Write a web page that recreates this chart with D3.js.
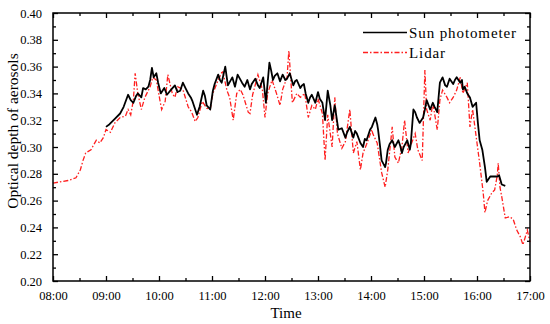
<!DOCTYPE html>
<html>
<head>
<meta charset="utf-8">
<script src="https://cdn.jsdelivr.net/npm/d3@7/dist/d3.min.js"></script>
<style>
  html, body { margin: 0; padding: 0; background: #fff; }
  svg { display: block; }
  text { font-family: "Liberation Serif", "Times New Roman", serif; fill: #000; }
</style>
</head>
<body>
<svg id="chart" width="550" height="324"></svg>
<script>
// ---------------- DATA ----------------
const sunTimes = ["09:00","09:04","09:10","09:16","09:20","09:25","09:28","09:31","09:34","09:36","09:40","09:42","09:45","09:48","09:50","09:52","09:54","09:57","09:59",
"10:02","10:06","10:09","10:14","10:18","10:21","10:24","10:27","10:30","10:33","10:36","10:38","10:43","10:46","10:50","10:52","10:54","10:58",
"11:01","11:03","11:07","11:09","11:11","11:15","11:18","11:23","11:26","11:29","11:34","11:37","11:40","11:43","11:45","11:49","11:52","11:54","11:58",
"12:01","12:05","12:07","12:09","12:11","12:14","12:17","12:20","12:23","12:25","12:28","12:32","12:34","12:36","12:40","12:42","12:44","12:46","12:49","12:51","12:53","12:57",
"13:00","13:02","13:05","13:08","13:11","13:14","13:16","13:19","13:23","13:27","13:31","13:33","13:36","13:40","13:42","13:44","13:48","13:51","13:53","13:55","13:59",
"14:01","14:05","14:07","14:08","14:10","14:12","14:16","14:17","14:19","14:21","14:24","14:27","14:31","14:33","14:35","14:37","14:41","14:44","14:45","14:48","14:50","14:52","14:55","14:59",
"15:01","15:03","15:07","15:10","15:12","15:15","15:18","15:21","15:24","15:26","15:29","15:33","15:35","15:37","15:41","15:43","15:44","15:46","15:49","15:52","15:55","15:59",
"16:01","16:03","16:06","16:09","16:11","16:15","16:18","16:23","16:25","16:28","16:32"];
const sunValues = [0.315,0.317,0.321,0.325,0.330,0.339,0.335,0.333,0.338,0.340,0.337,0.344,0.343,0.345,0.350,0.359,0.352,0.355,0.348,
0.340,0.344,0.339,0.343,0.346,0.341,0.342,0.348,0.344,0.340,0.337,0.334,0.324,0.330,0.342,0.338,0.331,0.328,
0.342,0.347,0.354,0.350,0.348,0.360,0.346,0.352,0.345,0.354,0.348,0.345,0.350,0.343,0.347,0.351,0.346,0.344,0.352,
0.333,0.363,0.357,0.350,0.353,0.355,0.349,0.354,0.350,0.351,0.355,0.346,0.349,0.350,0.344,0.346,0.347,0.340,0.333,0.337,0.339,0.333,
0.341,0.336,0.333,0.320,0.342,0.331,0.320,0.331,0.313,0.314,0.307,0.311,0.315,0.307,0.312,0.310,0.303,0.300,0.306,0.305,0.313,
0.315,0.322,0.317,0.313,0.302,0.290,0.285,0.288,0.298,0.302,0.305,0.300,0.305,0.301,0.2955,0.300,0.305,0.298,0.302,0.328,0.326,0.322,0.318,0.322,
0.328,0.335,0.328,0.333,0.330,0.326,0.348,0.352,0.346,0.345,0.351,0.347,0.350,0.352,0.348,0.350,0.343,0.345,0.340,0.337,0.330,0.333,
0.318,0.305,0.298,0.285,0.274,0.278,0.278,0.278,0.279,0.272,0.271];

const lidarTimes = ["08:00","08:08","08:17","08:26","08:31","08:34","08:37","08:43","08:49","08:53","08:57",
"09:00","09:05","09:10","09:16","09:22","09:25","09:28","09:31","09:33","09:36","09:40","09:44","09:50","09:53","09:57",
"10:01","10:03","10:07","10:10","10:15","10:18","10:21","10:27","10:33","10:37","10:41","10:44","10:49","10:54","10:58",
"11:01","11:07","11:12","11:17","11:20","11:24","11:28","11:32","11:35","11:41","11:43","11:46","11:52","11:57",
"12:00","12:03","12:08","12:13","12:17","12:20","12:25","12:27","12:31","12:36","12:40","12:45","12:49","12:53","12:57",
"13:00","13:05","13:08","13:11","13:16","13:19","13:22","13:27","13:31","13:36","13:40","13:44","13:48","13:51","13:55",
"14:01","14:02","14:07","14:12","14:16","14:19","14:24","14:27","14:31","14:35","14:38","14:42","14:46","14:50","14:53","14:58",
"15:01","15:03","15:07","15:10","15:15","15:18","15:21","15:26","15:29","15:33","15:37","15:41","15:44","15:49","15:52","15:55",
"16:00","16:03","16:07","16:09","16:12","16:17","16:20","16:23","16:24","16:26","16:28","16:32","16:37","16:41","16:45","16:49","16:52","16:57","17:00"];
const lidarValues = [0.273,0.274,0.275,0.277,0.283,0.290,0.2955,0.298,0.305,0.303,0.307,
0.313,0.311,0.318,0.322,0.323,0.328,0.324,0.335,0.355,0.340,0.328,0.337,0.345,0.352,0.350,
0.335,0.328,0.334,0.354,0.340,0.337,0.345,0.343,0.330,0.326,0.319,0.322,0.334,0.329,0.328,
0.340,0.350,0.357,0.342,0.337,0.320,0.340,0.343,0.339,0.326,0.325,0.339,0.354,0.343,
0.322,0.340,0.350,0.340,0.331,0.343,0.352,0.372,0.333,0.340,0.337,0.340,0.322,0.331,0.328,
0.336,0.325,0.290,0.324,0.300,0.337,0.310,0.299,0.304,0.328,0.2955,0.304,0.283,0.2955,0.302,
0.313,0.310,0.303,0.281,0.270,0.283,0.315,0.2925,0.288,0.300,0.320,0.2955,0.303,0.310,0.298,0.290,
0.3575,0.328,0.320,0.333,0.3127,0.335,0.3425,0.337,0.333,0.337,0.3425,0.352,0.340,0.348,0.315,0.328,
0.303,0.288,0.266,0.251,0.260,0.266,0.268,0.279,0.288,0.270,0.263,0.247,0.248,0.246,0.238,0.233,0.227,0.238,0.229];

const xMajorTicks = ["08:00","09:00","10:00","11:00","12:00","13:00","14:00","15:00","16:00","17:00"];
const xMinorTicks = ["08:30","09:30","10:30","11:30","12:30","13:30","14:30","15:30","16:30"];
const yMajorTicks = [0.20,0.22,0.24,0.26,0.28,0.30,0.32,0.34,0.36,0.38,0.40];
const yMinorTicks = [0.21,0.23,0.25,0.27,0.29,0.31,0.33,0.35,0.37,0.39];
const seriesNames = ["Sun photometer","Lidar"];

// ---------------- CHART ----------------
const parse = d3.timeParse("%H:%M");
const fmt = d3.timeFormat("%H:%M");
const L = 53, R = 530, T = 13, B = 281;

const svg = d3.select("#chart");
const x = d3.scaleTime().domain([parse("08:00"), parse("17:00")]).range([L, R]);
const y = d3.scaleLinear().domain([0.20, 0.40]).range([B, T]);

const sun = sunTimes.map((t, i) => ({t: parse(t), v: sunValues[i]}));
const lidar = lidarTimes.map((t, i) => ({t: parse(t), v: lidarValues[i]}));

const line = d3.line().x(d => x(d.t)).y(d => y(d.v));

const plot = svg.append("g");
plot.append("path").datum(lidar)
  .attr("d", line).attr("fill", "none")
  .attr("stroke", "#ff1f1f").attr("stroke-width", 1.3)
  .attr("stroke-dasharray", "5,2,1.5,2");
plot.append("path").datum(sun)
  .attr("d", line).attr("fill", "none")
  .attr("stroke", "#000").attr("stroke-width", 1.8)
  .attr("stroke-linejoin", "round");

function styleAxis(g, labels) {
  g.select(".domain").remove();
  g.attr("font-family", null);
  g.selectAll(".tick line").attr("stroke", "#000").attr("stroke-width", 1.3);
  g.selectAll(".tick text")
    .style("font-family", '"Liberation Serif", serif')
    .style("font-size", "12.5px").attr("fill", "#000");
  if (!labels) g.selectAll(".tick text").remove();
}

// bottom
svg.append("g").attr("transform", `translate(0,${B})`)
  .call(d3.axisBottom(x).tickValues(xMajorTicks.map(parse)).tickFormat(fmt).tickSizeInner(-5).tickSizeOuter(0).tickPadding(10))
  .call(g => styleAxis(g, true));
svg.append("g").attr("transform", `translate(0,${B})`)
  .call(d3.axisBottom(x).tickValues(xMinorTicks.map(parse)).tickSizeInner(-3).tickSizeOuter(0))
  .call(g => styleAxis(g, false));
// top
svg.append("g").attr("transform", `translate(0,${T})`)
  .call(d3.axisTop(x).tickValues(xMajorTicks.map(parse)).tickSizeInner(-5).tickSizeOuter(0))
  .call(g => styleAxis(g, false));
svg.append("g").attr("transform", `translate(0,${T})`)
  .call(d3.axisTop(x).tickValues(xMinorTicks.map(parse)).tickSizeInner(-3).tickSizeOuter(0))
  .call(g => styleAxis(g, false));
// left
svg.append("g").attr("transform", `translate(${L},0)`)
  .call(d3.axisLeft(y).tickValues(yMajorTicks).tickFormat(d3.format(".2f")).tickSizeInner(-5).tickSizeOuter(0).tickPadding(11))
  .call(g => styleAxis(g, true));
svg.append("g").attr("transform", `translate(${L},0)`)
  .call(d3.axisLeft(y).tickValues(yMinorTicks).tickSizeInner(-3).tickSizeOuter(0))
  .call(g => styleAxis(g, false));
// right
svg.append("g").attr("transform", `translate(${R},0)`)
  .call(d3.axisRight(y).tickValues(yMajorTicks).tickSizeInner(-5).tickSizeOuter(0))
  .call(g => styleAxis(g, false));
svg.append("g").attr("transform", `translate(${R},0)`)
  .call(d3.axisRight(y).tickValues(yMinorTicks).tickSizeInner(-3).tickSizeOuter(0))
  .call(g => styleAxis(g, false));

// frame
svg.append("rect").attr("x", L).attr("y", T).attr("width", R - L).attr("height", B - T)
  .attr("fill", "none").attr("stroke", "#000").attr("stroke-width", 1.5);

// axis titles
svg.append("text").attr("x", 286).attr("y", 318).attr("text-anchor", "middle")
  .style("font-size", "15px").text("Time");
svg.append("text").attr("transform", "translate(18,131) rotate(-90)").attr("text-anchor", "middle")
  .style("font-size", "15.5px").text("Optical depth of aerosols");

// legend
const leg = svg.append("g");
leg.append("line").attr("x1", 363).attr("x2", 407).attr("y1", 32.5).attr("y2", 32.5)
  .attr("stroke", "#000").attr("stroke-width", 1.6);
leg.append("text").attr("x", 409).attr("y", 37.5).style("font-size", "15px")
  .style("letter-spacing", "0.9px").text(seriesNames[0]);
leg.append("line").attr("x1", 363).attr("x2", 407).attr("y1", 52.5).attr("y2", 52.5)
  .attr("stroke", "#ff1f1f").attr("stroke-width", 1.3).attr("stroke-dasharray", "5,2,1.5,2");
leg.append("text").attr("x", 409).attr("y", 57.5).style("font-size", "15px")
  .style("letter-spacing", "0.9px").text(seriesNames[1]);
</script>
</body>
</html>
